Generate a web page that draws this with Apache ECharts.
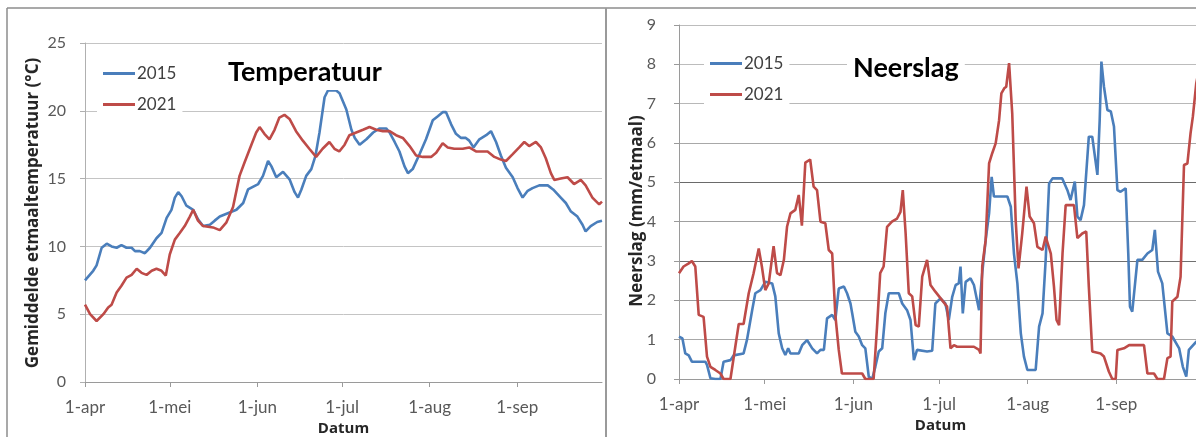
<!DOCTYPE html>
<html>
<head>
<meta charset="utf-8">
<script src="https://cdn.jsdelivr.net/npm/echarts@6/dist/echarts.min.js"></script>
<style>
  html, body { margin: 0; padding: 0; background: #fff; }
  #chart { width: 1196px; height: 437px; }
</style>
</head>
<body>
<div id="chart"></div>
<script>
// Day 0 = 1 April; month boundaries and their labels
const monthDays = [0, 30, 61, 91, 122, 153];
const monthLabels = ['1-apr', '1-mei', '1-jun', '1-jul', '1-aug', '1-sep'];
const seriesNames = ['2015', '2021'];
const tempAxisName = 'Gemiddelde etmaaltemperatuur (°C)';
const rainAxisName = 'Neerslag (mm/etmaal)';

// Gemiddelde etmaaltemperatuur (°C)
const tempDays2015 = [0, 2.9, 4.1, 5.9, 7.7, 9.4, 11.2, 12.9, 14.7, 16.5, 17.7, 19.4, 21.2, 23, 25.3, 27.1, 28.9, 30.6, 31.8, 33, 34.2, 35.9, 38.3, 40, 41.8, 44.2, 45.9, 47.7, 51.2, 53.6, 56, 57.7, 61.3, 63, 64.8, 66, 67.7, 70.1, 72.4, 74.2, 75.4, 76.6, 78.3, 80.1, 81.6, 83, 84.8, 86, 88.9, 90.1, 92.5, 94.3, 95.5, 97.2, 99.6, 102, 104.3, 106.6, 107.8, 109.6, 111.3, 113.1, 114.3, 116, 118.4, 120.7, 123.1, 124.9, 126.6, 127.8, 129.6, 131.3, 133.1, 134.8, 136, 137.5, 139.6, 142, 143.7, 145.5, 147.2, 149, 151.4, 153.1, 154.9, 156.7, 158.4, 160.8, 163.8, 165.7, 168.4, 170.2, 171.9, 174.3, 176.1, 177.2, 179, 181.3, 183];
const temp2015 = [7.5, 8.2, 8.6, 9.9, 10.2, 10.0, 9.9, 10.1, 9.9, 9.9, 9.65, 9.65, 9.5, 9.9, 10.6, 11.0, 12.1, 12.7, 13.6, 14.0, 13.7, 13.0, 12.7, 12.0, 11.5, 11.6, 11.9, 12.2, 12.5, 12.7, 13.2, 14.2, 14.6, 15.2, 16.3, 15.9, 15.1, 15.5, 14.95, 14.0, 13.6, 14.2, 15.2, 15.7, 16.7, 18.4, 21.0, 21.5, 21.5, 21.3, 20.1, 18.6, 18.0, 17.5, 17.9, 18.4, 18.7, 18.7, 18.4, 17.7, 17.0, 15.9, 15.4, 15.7, 16.8, 17.9, 19.3, 19.6, 19.9, 19.9, 19.0, 18.3, 18.0, 18.0, 17.8, 17.3, 17.9, 18.2, 18.5, 17.7, 16.7, 15.8, 15.1, 14.3, 13.6, 14.1, 14.3, 14.5, 14.5, 14.2, 13.6, 13.2, 12.6, 12.2, 11.6, 11.1, 11.5, 11.8, 11.9];
const tempDays2021 = [0, 1.8, 4.1, 6.5, 8.2, 9.4, 11.2, 12.9, 14.7, 16.5, 18.3, 20, 21.8, 23.6, 25.3, 27.1, 28.6, 30, 31.8, 33.6, 35.3, 37.1, 38.3, 40, 41.8, 45.3, 47.7, 50, 52.4, 54.7, 56.5, 58.9, 60.6, 61.8, 63.5, 65.3, 67.1, 68.8, 70.6, 72.4, 74.7, 77.1, 79.4, 81.8, 84.1, 86.5, 88.3, 90, 91.9, 93.6, 96, 98.4, 100.7, 103.1, 105.4, 107.8, 110.1, 112.5, 114.9, 117.2, 119.6, 122.5, 124.3, 126.6, 128.4, 130.7, 133.7, 136, 138.4, 142.5, 144.9, 147.2, 149, 151.4, 153.7, 155.5, 157.2, 159.6, 161.4, 163.1, 164.9, 166.1, 168.4, 170.8, 173.1, 175.5, 177.2, 179.6, 182, 183];
const temp2021 = [5.7, 5.0, 4.5, 5.0, 5.5, 5.7, 6.6, 7.1, 7.7, 7.9, 8.35, 8.05, 7.9, 8.2, 8.35, 8.2, 7.85, 9.4, 10.5, 11.0, 11.5, 12.2, 12.7, 11.9, 11.5, 11.4, 11.2, 11.75, 12.9, 15.2, 16.2, 17.5, 18.4, 18.8, 18.3, 17.9, 18.6, 19.5, 19.7, 19.4, 18.5, 17.8, 17.2, 16.6, 17.2, 17.7, 17.2, 17.0, 17.5, 18.2, 18.4, 18.6, 18.8, 18.6, 18.5, 18.5, 18.2, 18.0, 17.4, 16.7, 16.6, 16.6, 16.9, 17.6, 17.3, 17.2, 17.2, 17.3, 17.0, 17.0, 16.6, 16.4, 16.3, 16.8, 17.3, 17.7, 17.4, 17.7, 17.3, 16.5, 15.4, 14.9, 15.0, 15.1, 14.6, 14.9, 14.5, 13.6, 13.1, 13.3];

// Neerslag (mm/etmaal)
const rainDays2015 = [0, 1.2, 2.2, 3.4, 4.5, 9.2, 9.8, 11, 12.7, 14.5, 15.6, 18, 19.1, 22.6, 23.8, 25.6, 26.7, 28.5, 30.2, 32.6, 33.7, 34.9, 36.1, 37.2, 38.2, 39, 41.9, 43.1, 44.8, 46.6, 48.3, 49.5, 50.7, 51.8, 53.6, 54.7, 55.9, 57.7, 58.8, 60, 60.6, 61.7, 62.9, 64.1, 65.2, 66.4, 67.6, 68.7, 69.9, 71.1, 72.2, 73.4, 76.9, 78.1, 79.8, 81, 82.2, 83.3, 86.8, 88.6, 89.7, 91.5, 93.2, 94.4, 95.6, 96.8, 97.9, 98.5, 99.3, 100.3, 102, 103.2, 105, 106.1, 107.3, 108.5, 109.4, 110.2, 112, 114.9, 116.1, 117.2, 118.4, 119.6, 120.7, 121.9, 124.8, 126, 127.2, 128.3, 129.5, 130.7, 134.1, 135.9, 137, 138.5, 139.4, 140.5, 141.7, 143.4, 144.6, 146.4, 147.2, 147.8, 148.7, 149.9, 151.1, 152.2, 153.4, 154.5, 156.3, 157.2, 157.8, 158.6, 160.4, 162.1, 163.9, 165.6, 166.5, 167.6, 169.1, 170.9, 172.6, 175, 176.3, 177.5, 178.4, 181, 183];
const rain2015 = [1.08, 1.03, 0.65, 0.6, 0.44, 0.44, 0.36, 0.02, 0, 0, 0.44, 0.48, 0.6, 0.65, 1.0, 1.75, 2.18, 2.26, 2.47, 2.43, 2.1, 1.16, 0.78, 0.61, 0.78, 0.65, 0.65, 0.86, 0.99, 0.78, 0.65, 0.74, 0.74, 1.54, 1.63, 1.5, 2.3, 2.35, 2.18, 1.92, 1.67, 1.2, 1.08, 0.86, 0.78, 0.06, 0, 0.31, 0.7, 0.78, 1.67, 2.18, 2.18, 1.92, 1.75, 1.5, 0.48, 0.74, 0.7, 0.72, 1.92, 2.05, 1.92, 1.5, 2.09, 2.39, 2.43, 2.86, 1.67, 2.47, 2.56, 2.39, 1.75, 2.69, 3.53, 4.21, 5.14, 4.64, 4.64, 4.64, 4.38, 3.19, 2.43, 1.16, 0.57, 0.23, 0.23, 1.33, 1.67, 3.03, 4.97, 5.1, 5.1, 4.8, 4.55, 5.02, 4.13, 4.04, 4.42, 6.16, 6.16, 5.19, 6.58, 8.07, 7.43, 6.84, 6.8, 6.42, 4.8, 4.76, 4.85, 3.19, 1.84, 1.71, 3.03, 3.03, 3.19, 3.28, 3.79, 2.73, 2.43, 1.16, 1.08, 0.78, 0.31, 0.06, 0.74, 0.95, 1.0];
const rainDays2021 = [0, 1.6, 3.4, 4.5, 5.7, 6.9, 8.6, 9.8, 11, 12.7, 14.5, 15.6, 18, 19.7, 20.9, 22.6, 24.4, 26.1, 27.9, 29, 30.2, 31.4, 33.1, 34.3, 35.5, 36.7, 37.8, 39, 40.7, 41.9, 43, 44.2, 45.9, 47.1, 48.3, 49.5, 51.2, 52.4, 53.6, 54.7, 55.9, 57, 64.1, 65.2, 68.1, 69.3, 70.4, 71.6, 72.8, 74.5, 76.3, 77.5, 78.3, 79.3, 80.4, 81.6, 82.8, 83.9, 85.1, 86.8, 88, 89.7, 90.3, 92.1, 93.8, 95, 96.2, 97.3, 103.2, 105, 105.5, 106.1, 107.3, 108.5, 109.6, 110.8, 112, 112.8, 113.8, 114.5, 115.5, 116.6, 117.8, 118.8, 120.1, 121.6, 122.7, 124.2, 125.4, 127.2, 128.3, 130.1, 131.2, 132.1, 133, 134.2, 135.3, 138.2, 139.4, 141.1, 142.5, 143.4, 144.6, 147.5, 148.7, 150.4, 151.6, 152.8, 153.4, 155.7, 157.5, 162.7, 163.9, 166.2, 167.4, 169.7, 170.9, 172, 172.6, 174.4, 175.5, 176.7, 177.9, 179, 179.8, 181, 182.5];
const rain2021 = [2.69, 2.86, 2.94, 3.0, 2.86, 1.63, 1.58, 0.57, 0.31, 0.23, 0.14, 0, 0, 0.82, 1.4, 1.4, 2.18, 2.69, 3.32, 2.86, 2.26, 2.43, 3.38, 2.69, 2.64, 3.03, 3.87, 4.21, 4.3, 4.68, 3.9, 5.5, 5.58, 4.89, 4.8, 4.0, 3.96, 3.28, 3.19, 1.63, 0.74, 0.14, 0.14, 0, 0, 1.33, 2.69, 2.86, 3.87, 4.0, 4.08, 4.25, 4.8, 3.7, 2.18, 2.1, 1.37, 1.33, 2.6, 3.03, 2.39, 2.22, 2.18, 2.0, 1.84, 0.78, 0.86, 0.82, 0.82, 0.74, 0.65, 2.86, 3.53, 5.48, 5.74, 5.99, 6.58, 7.26, 7.39, 7.43, 8.03, 6.75, 4.04, 2.81, 3.7, 4.89, 4.13, 3.96, 3.36, 3.28, 3.62, 3.19, 2.35, 1.5, 1.37, 3.19, 4.42, 4.42, 3.58, 3.7, 3.75, 2.35, 0.7, 0.65, 0.57, 0.19, 0, 0, 0.74, 0.78, 0.86, 0.86, 0.14, 0.14, 0, 0, 0.53, 0.57, 1.97, 2.09, 2.6, 5.44, 5.48, 6.25, 6.67, 7.52, 8.1];

const zip = (xs, ys) => xs.map((x, i) => [x, ys[i]]);

const BLUE = '#4A7EBB';
const RED = '#BE4B48';
const FONT = 'Lato';
const NAME_FONT = 'Open Sans';
const LABEL_COLOR = '#595959';
const NAME_COLOR = '#262626';

function xAxisFor(gridIndex) {
  return {
    type: 'value', gridIndex, min: 0, max: 183,
    name: 'Datum', nameLocation: 'middle', nameGap: 38,
    nameTextStyle: { fontFamily: NAME_FONT, fontWeight: 'bold', fontSize: 15, color: NAME_COLOR },
    axisLine: { lineStyle: { color: '#9a9a9a', width: 1 } },
    axisTick: { show: true, length: 5, customValues: monthDays, lineStyle: { color: '#9a9a9a' } },
    axisLabel: {
      customValues: monthDays, margin: 17,
      fontFamily: FONT, fontSize: 17, color: LABEL_COLOR,
      formatter: v => monthLabels[monthDays.indexOf(Math.round(v))] || ''
    },
    splitLine: { show: false }
  };
}

function lineSeries(name, color, xi, yi, data) {
  return {
    name, type: 'line', xAxisIndex: xi, yAxisIndex: yi, data,
    showSymbol: false, symbol: 'none', smooth: false,
    lineStyle: { color, width: 2.6 }, itemStyle: { color },
    animation: false
  };
}

// rotated y-axis title
function axisTitle(text, x, y) {
  return {
    type: 'text', silent: true, x, y, rotation: Math.PI / 2,
    style: { text, fontFamily: NAME_FONT, fontWeight: 'bold', fontSize: 17, fill: NAME_COLOR,
             align: 'center', verticalAlign: 'middle' }
  };
}

const legendBase = {
  orient: 'vertical', icon: 'rect', itemWidth: 32, itemHeight: 3, itemGap: 14,
  backgroundColor: '#fff', selectedMode: false,
  textStyle: { fontFamily: FONT, fontSize: 17, color: '#404040', padding: [0, 0, 0, -3] },
  data: seriesNames
};

const chart = echarts.init(document.getElementById('chart'), null, { renderer: 'canvas' });
chart.setOption({
  backgroundColor: '#fff',
  animation: false,
  title: [
    { text: 'Temperatuur', left: 222, top: 55, padding: [4, 6],
      backgroundColor: '#fff',
      textStyle: { fontFamily: FONT, fontWeight: 'bold', fontSize: 27, color: '#000' } },
    { text: 'Neerslag', left: 847, top: 51, padding: [4, 6],
      backgroundColor: '#fff',
      textStyle: { fontFamily: FONT, fontWeight: 'bold', fontSize: 27, color: '#000' } }
  ],
  legend: [
    Object.assign({}, legendBase, { left: 97, top: 55, padding: [10, 6, 5, 6] }),
    Object.assign({}, legendBase, { left: 704, top: 46, padding: [9, 6, 6, 6] })
  ],
  grid: [
    { left: 85, top: 43, width: 517, height: 339, outerBoundsMode: 'none' },
    { left: 679, top: 25, width: 523, height: 354, outerBoundsMode: 'none' }
  ],
  xAxis: [xAxisFor(0), xAxisFor(1)],
  yAxis: [
    {
      type: 'value', gridIndex: 0, min: 0, max: 25, interval: 5,
      axisLine: { show: true, lineStyle: { color: '#b0b0b0' } },
      axisTick: { show: true, length: 5, lineStyle: { color: '#b0b0b0' } },
      axisLabel: { fontFamily: FONT, fontSize: 16, color: LABEL_COLOR, margin: 19 },
      splitLine: { lineStyle: { color: '#c4c4c4', width: 1 } }
    },
    {
      type: 'value', gridIndex: 1, min: 0, max: 9, interval: 1,
      axisLine: { show: true, lineStyle: { color: '#9a9a9a' } },
      axisTick: { show: true, length: 5, lineStyle: { color: '#9a9a9a' } },
      axisLabel: { fontFamily: FONT, fontSize: 16, color: LABEL_COLOR, margin: 23 },
      splitLine: { lineStyle: {
        color: ['#9a9a9a', '#a8a8a8', '#999999', '#707070', '#a0a0a0', '#6a6a6a', '#a8a8a8', '#b8b8b8', '#bcbcbc', '#bcbcbc'],
        width: 1 } }
    }
  ],
  series: [
    lineSeries('2015', BLUE, 0, 0, zip(tempDays2015, temp2015)),
    lineSeries('2021', RED, 0, 0, zip(tempDays2021, temp2021)),
    lineSeries('2015', BLUE, 1, 1, zip(rainDays2015, rain2015)),
    lineSeries('2021', RED, 1, 1, zip(rainDays2021, rain2021))
  ],
  graphic: [
    // panel frames
    { type: 'line', silent: true, shape: { x1: 7, y1: 8, x2: 1196, y2: 8 }, style: { stroke: '#8c8c8c', lineWidth: 1.5 } },
    { type: 'line', silent: true, shape: { x1: 7, y1: 8, x2: 7, y2: 437 }, style: { stroke: '#8c8c8c', lineWidth: 1.5 } },
    { type: 'line', silent: true, shape: { x1: 606, y1: 8, x2: 606, y2: 437 }, style: { stroke: '#9a9a9a', lineWidth: 2 } },
    axisTitle(tempAxisName, 33, 213),
    axisTitle(rainAxisName, 637, 211)
  ]
});
</script>
</body>
</html>
